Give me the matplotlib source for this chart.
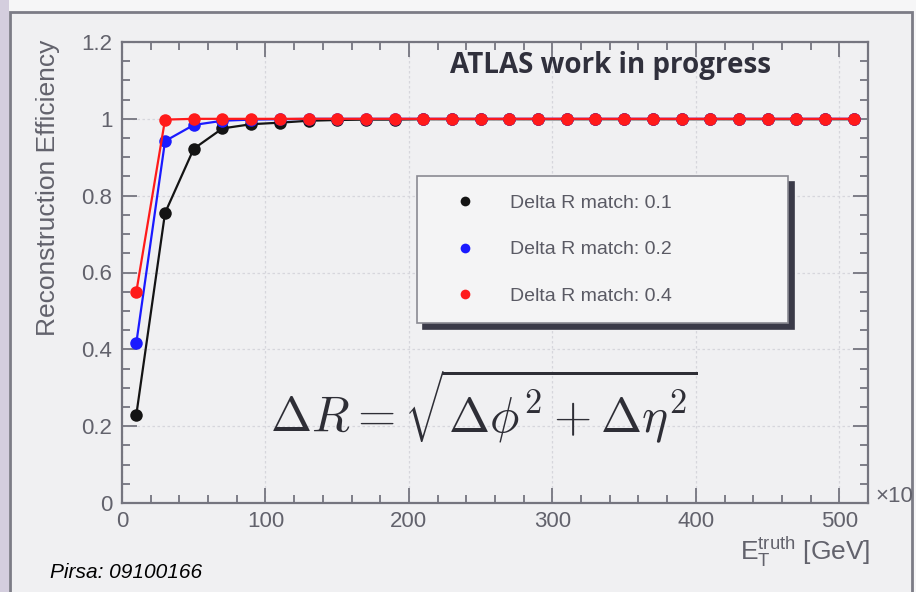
import matplotlib
matplotlib.use("Agg")
import matplotlib.pyplot as plt
from matplotlib.lines import Line2D
from matplotlib.patches import Rectangle
from matplotlib.ticker import FixedLocator, MultipleLocator, FixedFormatter

# ---- data ----
et_truth = [10, 30, 50, 70, 90, 110, 130, 150, 170, 190, 210, 230, 250,
            270, 290, 310, 330, 350, 370, 390, 410, 430, 450, 470, 490, 510]
eff_dr01 = [0.23, 0.755, 0.922, 0.975, 0.986, 0.99, 0.995, 0.997, 0.998, 0.998,
            0.999, 0.999, 0.999, 0.999, 0.999, 0.999, 0.999, 0.999, 0.999, 0.999,
            0.999, 0.999, 0.999, 0.999, 0.999, 0.999]
eff_dr02 = [0.417, 0.942, 0.984, 0.995, 0.998, 0.999, 1.0, 1.0, 1.0, 1.0,
            1.0, 1.0, 1.0, 1.0, 1.0, 1.0, 1.0, 1.0, 1.0, 1.0,
            1.0, 1.0, 1.0, 1.0, 1.0, 1.0]
eff_dr04 = [0.55, 0.998, 1.0, 1.0, 1.0, 1.0, 1.0, 1.0, 1.0, 1.0,
            1.0, 1.0, 1.0, 1.0, 1.0, 1.0, 1.0, 1.0, 1.0, 1.0,
            1.0, 1.0, 1.0, 1.0, 1.0, 1.0]
series_labels = ["Delta R match: 0.1", "Delta R match: 0.2", "Delta R match: 0.4"]
series_colors = ["#141414", "#1a1aff", "#ff1a1a"]
x_ticks = [0, 100, 200, 300, 400, 500]
x_tick_labels = ["0", "100", "200", "300", "400", "500"]
y_ticks = [0, 0.2, 0.4, 0.6, 0.8, 1.0, 1.2]
y_tick_labels = ["0", "0.2", "0.4", "0.6", "0.8", "1", "1.2"]

W, H = 916, 592
bg = "#f0f0f2"
tick_col = "#62626c"

plt.rcParams["mathtext.fontset"] = "cm"

fig = plt.figure(figsize=(W / 100, H / 100), dpi=100)
fig.patch.set_facecolor("#f6f6f7")

# canvas frame (drawn behind the axes)
fig.patches.append(Rectangle((0, 0), 9 / W, 1, transform=fig.transFigure,
                             facecolor="#d4cede", edgecolor="none", zorder=-10))
fig.patches.append(Rectangle((10 / W, -0.05), 902 / W, 1 - 12 / H + 0.05,
                             transform=fig.transFigure, facecolor=bg,
                             edgecolor="#7c7c86", linewidth=2, zorder=-9))

ax = fig.add_axes([122 / W, 1 - 503 / H, (868 - 122) / W, (503 - 42) / H])
ax.set_zorder(1)
ax.set_facecolor(bg)
ax.set_xlim(0, 520)
ax.set_ylim(0, 1.2)

for s in ax.spines.values():
    s.set_color("#75757f")
    s.set_linewidth(1.6)

ax.xaxis.set_major_locator(FixedLocator(x_ticks))
ax.xaxis.set_major_formatter(FixedFormatter(x_tick_labels))
ax.xaxis.set_minor_locator(MultipleLocator(20))
ax.yaxis.set_major_locator(FixedLocator(y_ticks))
ax.yaxis.set_major_formatter(FixedFormatter(y_tick_labels))
ax.yaxis.set_minor_locator(MultipleLocator(0.05))
ax.tick_params(which="both", direction="in", top=True, right=True,
               color="#75757f", width=1.3)
ax.tick_params(which="major", length=11)
ax.tick_params(which="minor", length=5.5)
ax.tick_params(axis="both", which="major", labelsize=16, labelcolor=tick_col)
ax.tick_params(axis="y", pad=7)
ax.tick_params(axis="x", pad=6)
for lab in ax.get_xticklabels() + ax.get_yticklabels():
    lab.set_fontfamily("Liberation Sans")

ax.grid(True, which="major", color="#d6d6dc", linewidth=0.9, linestyle=(0, (2, 2)))
ax.set_axisbelow(True)

for ys, lab, col in zip([eff_dr01, eff_dr02, eff_dr04], series_labels, series_colors):
    ax.plot(et_truth, ys, color=col, linewidth=1.6, marker="o",
            markersize=9, markeredgewidth=0, label=lab, zorder=3)

handles = [Line2D([], [], linestyle="none", marker="o", markersize=7,
                  markeredgewidth=0, color=c) for c in series_colors]
leg = ax.legend(handles, series_labels, loc="upper left",
                bbox_to_anchor=((417 - 122) / 746, (503 - 176) / 461, (788 - 417) / 746, 0),
                mode="expand", borderaxespad=0, labelspacing=1.48,
                borderpad=0.95, handlelength=3.0, handletextpad=0.85,
                fancybox=False, frameon=True, labelcolor="#5a5a64",
                shadow={"ox": 4, "oy": -4, "color": "#3a3a48", "alpha": 1.0},
                prop={"family": "Liberation Sans", "size": 14})
leg.get_frame().set_facecolor("#f4f4f5")
leg.get_frame().set_edgecolor("#8a8a92")
leg.get_frame().set_linewidth(1.2)
leg.get_frame().set_alpha(1.0)
leg.set_zorder(5)

# texts
fig.text(450 / W, 1 - 66 / H, "ATLAS work in progress", fontsize=20,
         fontweight="bold", family="Open Sans", color="#30303c",
         ha="left", va="center", zorder=5)

fig.text(270 / W, 1 - 432 / H, r"$\Delta R = \sqrt{\Delta\phi^2 + \Delta\eta^2}$",
         fontsize=35.5, color="#2e2e36", ha="left", va="baseline", zorder=5)

fig.text(48 / W, 1 - 40 / H, "Reconstruction Efficiency", rotation=90,
         fontsize=19, family="Liberation Sans", color=tick_col,
         ha="center", va="top")
fig.text(870 / W, 1 - 552 / H, r"$\mathregular{E_{T}^{truth}}$ [GeV]",
         fontsize=19, family="Liberation Sans", color=tick_col,
         ha="right", va="center")
fig.text(875 / W, 1 - 497 / H, "×10", fontsize=16, family="Liberation Sans",
         color=tick_col, ha="left", va="center")
fig.text(50 / W, 1 - 573 / H, "Pirsa: 09100166", fontsize=15,
         family="Liberation Sans", style="italic", color="black",
         ha="left", va="center")

fig.savefig("out.png", dpi=100, facecolor=fig.get_facecolor())
